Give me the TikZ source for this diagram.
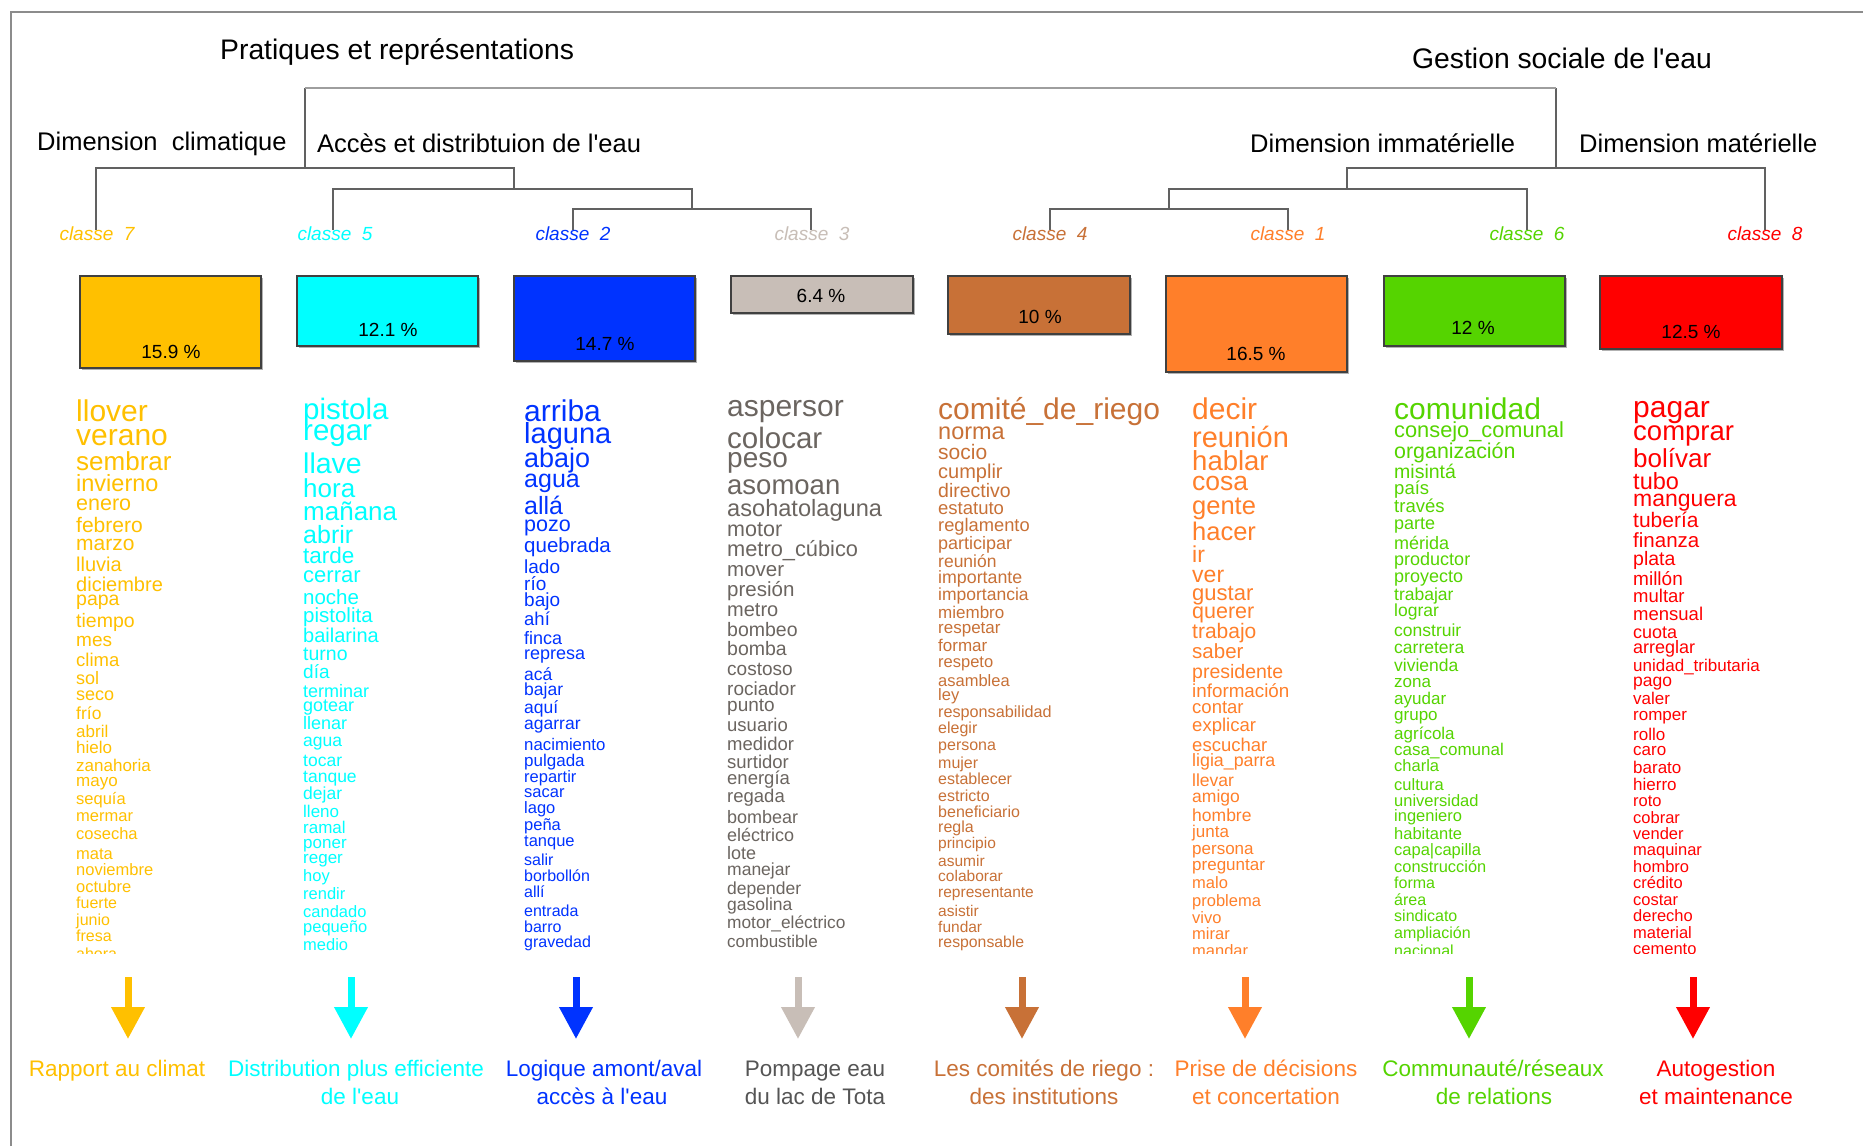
\documentclass[tikz,border=0pt]{standalone}
\usepackage{fontspec}
\setmainfont{Liberation Sans}
\usetikzlibrary{arrows.meta,shadows}
\definecolor{cY}{HTML}{FFC000}
\definecolor{cC}{HTML}{00FFFF}
\definecolor{cB}{HTML}{0033FF}
\definecolor{cG}{HTML}{C8BEB7}
\definecolor{cGT}{HTML}{6B6560}
\definecolor{cBR}{HTML}{C87137}
\definecolor{cO}{HTML}{FF7F2A}
\definecolor{cGR}{HTML}{55D400}
\definecolor{cR}{HTML}{FF0000}
\definecolor{cPT}{HTML}{555555}
\newcommand{\apos}{\textquotesingle}
\tikzset{
 dend/.style={draw=black!62, line width=1.8pt},
 topbar/.style={draw=black!38, line width=2.4pt},
 frameline/.style={draw=black!45, line width=2pt},
 titletext/.style={anchor=base west, inner sep=0, font=\fontsize{25.5}{25.5}\selectfont},
 bigtitle/.style={anchor=base west, inner sep=0, font=\fontsize{28.3}{28.3}\selectfont},
 cls/.style={anchor=base, inner sep=0, font=\fontsize{19}{19}\selectfont\itshape},
 pbox/.style={draw=black!75, line width=1.5pt, inner sep=0, drop shadow={shadow xshift=1.5pt, shadow yshift=-2pt, fill=black!30, opacity=1}},
 pct/.style={inner sep=0, font=\fontsize{19}{19}\selectfont},
 bigarrow/.style={line width=7pt, -{Triangle[width=32pt,length=32pt]}},
 lab/.style={anchor=base, inner sep=0, font=\fontsize{22.5}{22.5}\selectfont},
}
\newcommand{\wcol}[4]{%
  \foreach \w/\y/\s [count=\i] in {#4} {%
    \node[anchor=base west, inner sep=0, text=#3, font=\fontsize{\s}{\s}\selectfont] (#1\i) at (#2,\y) {\w};
  }}
\begin{document}
\begin{tikzpicture}[x=1pt,y=-1pt]
\useasboundingbox (0,0) rectangle (1863,1146);
\fill[white] (0,0) rectangle (1863,1146);
\draw[frameline] (11,1146) -- (11,12) -- (1863,12);

% titles
\node[bigtitle] (tPR) at (220,59) {Pratiques et représentations};
\node[bigtitle] (tGS) at (1412,68) {Gestion sociale de l\apos eau};
\node[titletext] (tDC) at (37,150) {Dimension\ \ climatique};
\node[titletext] (tAD) at (317,152) {Accès et distribtuion de l\apos eau};
\node[titletext] (tDI) at (1250,152) {Dimension immatérielle};
\node[titletext] (tDM) at (1579,152) {Dimension matérielle};

% dendrogram coordinates
\coordinate (t1) at (305,88); \coordinate (t2) at (1556,88);
\coordinate (a0) at (305,168); \coordinate (d0) at (1556,168);
\coordinate (k7t) at (96,230); \coordinate (a1) at (96,168); \coordinate (a2) at (514,168); \coordinate (a3) at (514,189);
\coordinate (k5t) at (333,230); \coordinate (b1) at (333,189); \coordinate (b2) at (692,189); \coordinate (b3) at (692,209);
\coordinate (k2t) at (573,230); \coordinate (c1) at (573,209); \coordinate (c2) at (811,209); \coordinate (k3t) at (811,230);
\coordinate (k8t) at (1765,230); \coordinate (d1) at (1765,168); \coordinate (d2) at (1347,168); \coordinate (d3) at (1347,189);
\coordinate (k6t) at (1527,230); \coordinate (e1) at (1527,189); \coordinate (e2) at (1169,189); \coordinate (e3) at (1169,209);
\coordinate (k1t) at (1288,230); \coordinate (f1) at (1288,209); \coordinate (f2) at (1050,209); \coordinate (k4t) at (1050,230);

\draw[dend] (t1) -- (a0);
\draw[dend] (t2) -- (d0);
\draw[dend] (k7t) -- (a1) -- (a2) -- (a3);
\draw[dend] (k5t) -- (b1) -- (b2) -- (b3);
\draw[dend] (k2t) -- (c1) -- (c2) -- (k3t);
\draw[dend] (k8t) -- (d1) -- (d2) -- (d3);
\draw[dend] (k6t) -- (e1) -- (e2) -- (e3);
\draw[dend] (k1t) -- (f1) -- (f2) -- (k4t);
\draw[topbar] (t1) -- (t2);

% class labels
\node[cls, text=cY] (k7) at (97,240) {classe~~7};
\node[cls, text=cC] (k5) at (335,240) {classe~~5};
\node[cls, text=cB] (k2) at (573,240) {classe~~2};
\node[cls, text=cG] (k3) at (812,240) {classe~~3};
\node[cls, text=cBR] (k4) at (1050,240) {classe~~4};
\node[cls, text=cO] (k1) at (1288,240) {classe~~1};
\node[cls, text=cGR] (k6) at (1527,240) {classe~~6};
\node[cls, text=cR] (k8) at (1765,240) {classe~~8};

% boxes
\node[pbox, fill=cY, minimum width=181pt, minimum height=92pt] (b7) at (170.5,322) {};
\node[pbox, fill=cC, minimum width=181pt, minimum height=70pt] (b5) at (387.5,311) {};
\node[pbox, fill=cB, minimum width=181pt, minimum height=85pt] (b2) at (604.5,318.5) {};
\node[pbox, fill=cG, minimum width=182pt, minimum height=37pt] (b3) at (822,294.5) {};
\node[pbox, fill=cBR, minimum width=182pt, minimum height=58pt] (b4) at (1039,305) {};
\node[pbox, fill=cO, minimum width=181pt, minimum height=96pt] (b1) at (1256.5,324) {};
\node[pbox, fill=cGR, minimum width=181pt, minimum height=70pt] (b6) at (1474.5,311) {};
\node[pbox, fill=cR, minimum width=182pt, minimum height=73pt] (b8) at (1691,312.5) {};
\node[pct] (p7) at (171,352) {15.9 \%};
\node[pct] (p5) at (388,330) {12.1 \%};
\node[pct] (p2) at (605,344) {14.7 \%};
\node[pct] (p3) at (821,296) {6.4 \%};
\node[pct] (p4) at (1040,317) {10 \%};
\node[pct] (p1) at (1256,354) {16.5 \%};
\node[pct] (p6) at (1473,328) {12 \%};
\node[pct] (p8) at (1691,332) {12.5 \%};

% word columns
\begin{scope}
\clip (0,385) rectangle (1863,953);
\wcol{wa}{76}{cY}{llover/421/30,verano/445/30,sembrar/470/26,invierno/491/23.5,enero/510/21.5,febrero/532/21,marzo/550/21,lluvia/571/20,diciembre/591/20,papa/605/19.5,tiempo/627/19.5,mes/646/19,clima/666/18.5,sol/684/18,seco/700/18,frío/719/17.5,abril/737/17,hielo/753/17,zanahoria/771/17,mayo/786/17,sequía/804/16.5,mermar/821/16.5,cosecha/839/16.5,mata/859/16.5,noviembre/875/16.5,octubre/892/16.5,fuerte/908/16,junio/925/16,fresa/941/16,ahora/959/16}
\wcol{wb}{303}{cC}{pistola/419/29.5,regar/440/29.5,llave/473/28.5,hora/497/26,mañana/520/26,abrir/543/25,tarde/563/22.5,cerrar/582/22,noche/604/20.5,pistolita/622/20.5,bailarina/642/20,turno/660/19.5,día/678/19,terminar/697/18,gotear/711/18,llenar/729/18,agua/746/17.5,tocar/766/17.5,tanque/782/17.5,dejar/799/17.5,lleno/817/17,ramal/833/17,poner/848/17,reger/863/17,hoy/881/16.5,rendir/899/16.5,candado/917/16.5,pequeño/932/16.5,medio/950/16.5}
\wcol{wc}{524}{cB}{arriba/421/30,laguna/443/29,abajo/467/27,agua/487/25,allá/514/25,pozo/531/21.5,quebrada/552/20.5,lado/573/19,río/590/19,bajo/606/19,ahí/625/18.5,finca/644/18,represa/659/18,acá/680/17.5,bajar/695/17.5,aquí/713/17.5,agarrar/729/17.5,nacimiento/750/16.8,pulgada/766/17,repartir/782/16.5,sacar/797/16.5,lago/813/16.5,peña/830/16.5,tanque/846/16.5,salir/865/16,borbollón/881/16,allí/897/16,entrada/916/16,barro/932/16,gravedad/947/16}
\wcol{wd}{727}{cGT}{aspersor/416/30,colocar/448/29.5,peso/467/28,asomoan/494/27.5,asohatolaguna/516/23.6,motor/536/21.5,metro\_cúbico/556/21.8,mover/576/20.5,presión/596/20.5,metro/616/20,bombeo/636/19.5,bomba/655/19.5,costoso/675/19,rociador/695/19,punto/711/19,usuario/731/18.5,medidor/750/18.5,surtidor/768/18.5,energía/784/18.5,regada/802/18.5,bombear/823/18,eléctrico/841/18,lote/859/18,manejar/875/17.5,depender/894/17.5,gasolina/910/17.5,motor\_eléctrico/928/17.3,combustible/947/17}
\wcol{we}{938}{cBR}{comité\_de\_riego/419/30,norma/439/23.5,socio/459/21,cumplir/478/20,directivo/497/19.5,estatuto/514/18.5,reglamento/531/18.3,participar/549/18,reunión/567/17.5,importante/583/17.8,importancia/600/17.5,miembro/618/17,respetar/633/17,formar/651/17,respeto/667/16.5,asamblea/686/16.5,ley/700/16.5,responsabilidad/717/16.2,elegir/733/16,persona/750/16,mujer/768/16,establecer/784/16,estricto/801/16,beneficiario/817/16,regla/832/16,principio/848/15.5,asumir/866/15.5,colaborar/881/15.5,representante/897/15.5,asistir/916/15.5,fundar/932/15.5,responsable/947/15.8}
\wcol{wf}{1192}{cO}{decir/419/30,reunión/447/29,hablar/470/27.5,cosa/490/26.5,gente/514/25.5,hacer/540/25.5,ir/562/23,ver/582/23,gustar/600/22,querer/618/21.5,trabajo/638/21,saber/658/20.5,presidente/678/19.5,información/697/18.8,contar/713/18.5,explicar/731/18.5,escuchar/751/18.5,ligia\_parra/766/17.8,llevar/786/17.5,amigo/802/17.5,hombre/821/17.5,junta/837/17,persona/854/17,preguntar/870/17,malo/888/16.5,problema/906/16.5,vivo/923/16.5,mirar/939/16.5,mandar/956/16.5}
\wcol{wg}{1394}{cGR}{comunidad/419/30,consejo\_comunal/437/21.8,organización/458/21.4,misintá/478/19.5,país/494/18.5,través/512/18.5,parte/529/18,mérida/549/18,productor/565/18,proyecto/582/18,trabajar/600/17.5,lograr/616/17.5,construir/636/17.5,carretera/653/17.5,vivienda/671/17.5,zona/687/17,ayudar/704/17,grupo/720/17,agrícola/739/17,casa\_comunal/755/17,charla/771/16.5,cultura/790/16.5,universidad/806/16.5,ingeniero/821/16.5,habitante/839/16.5,capa|capilla/855/16.5,construcción/872/16.4,forma/888/16,área/905/16,sindicato/921/16,ampliación/938/16,nacional/956/16}
\wcol{wh}{1633}{cR}{pagar/417/30,comprar/440/27.5,bolívar/467/26,tubo/489/23.5,manguera/506/23,tubería/527/21,finanza/547/20.5,plata/565/19.5,millón/585/19,multar/602/18.5,mensual/620/18.5,cuota/638/18,arreglar/653/18,unidad\_tributaria/671/17,pago/686/17.5,valer/704/17,romper/720/17,rollo/740/17,caro/755/17,barato/773/17,hierro/790/17,roto/806/16.5,cobrar/823/16.5,vender/839/16.5,maquinar/855/16.5,hombro/872/16.5,crédito/888/16.5,costar/905/16.5,derecho/921/16.5,material/938/16.5,cemento/954/16.5}
\end{scope}

% arrows
\foreach \n/\x/\c in {7/128/cY,5/351/cC,2/576/cB,3/798/cG,4/1022/cBR,1/1245/cO,6/1469/cGR,8/1693/cR}{
  \coordinate (s\n) at (\x,977);
  \coordinate (e\n) at (\x,1039);
  \draw[bigarrow, draw=\c, fill=\c] (s\n) -- (e\n);
}

% bottom labels
\node[lab, text=cY] (l7) at (117,1076) {Rapport au climat};
\node[lab, text=cC] (l5a) at (356,1076) {Distribution plus efficiente};
\node[lab, text=cC] (l5b) at (360,1104) {de l\apos eau};
\node[lab, text=cB] (l2a) at (604,1076) {Logique amont/aval};
\node[lab, text=cB] (l2b) at (602,1104) {accès à l\apos eau};
\node[lab, text=cPT] (l3a) at (815,1076) {Pompage eau};
\node[lab, text=cPT] (l3b) at (815,1104) {du lac de Tota};
\node[lab, text=cBR] (l4a) at (1044,1076) {Les comités de riego :};
\node[lab, text=cBR] (l4b) at (1044,1104) {des institutions};
\node[lab, text=cO] (l1a) at (1266,1076) {Prise de décisions};
\node[lab, text=cO] (l1b) at (1266,1104) {et concertation};
\node[lab, text=cGR] (l6a) at (1493,1076) {Communauté/réseaux};
\node[lab, text=cGR] (l6b) at (1494,1104) {de relations};
\node[lab, text=cR] (l8a) at (1716,1076) {Autogestion};
\node[lab, text=cR] (l8b) at (1716,1104) {et maintenance};
\end{tikzpicture}
\end{document}
